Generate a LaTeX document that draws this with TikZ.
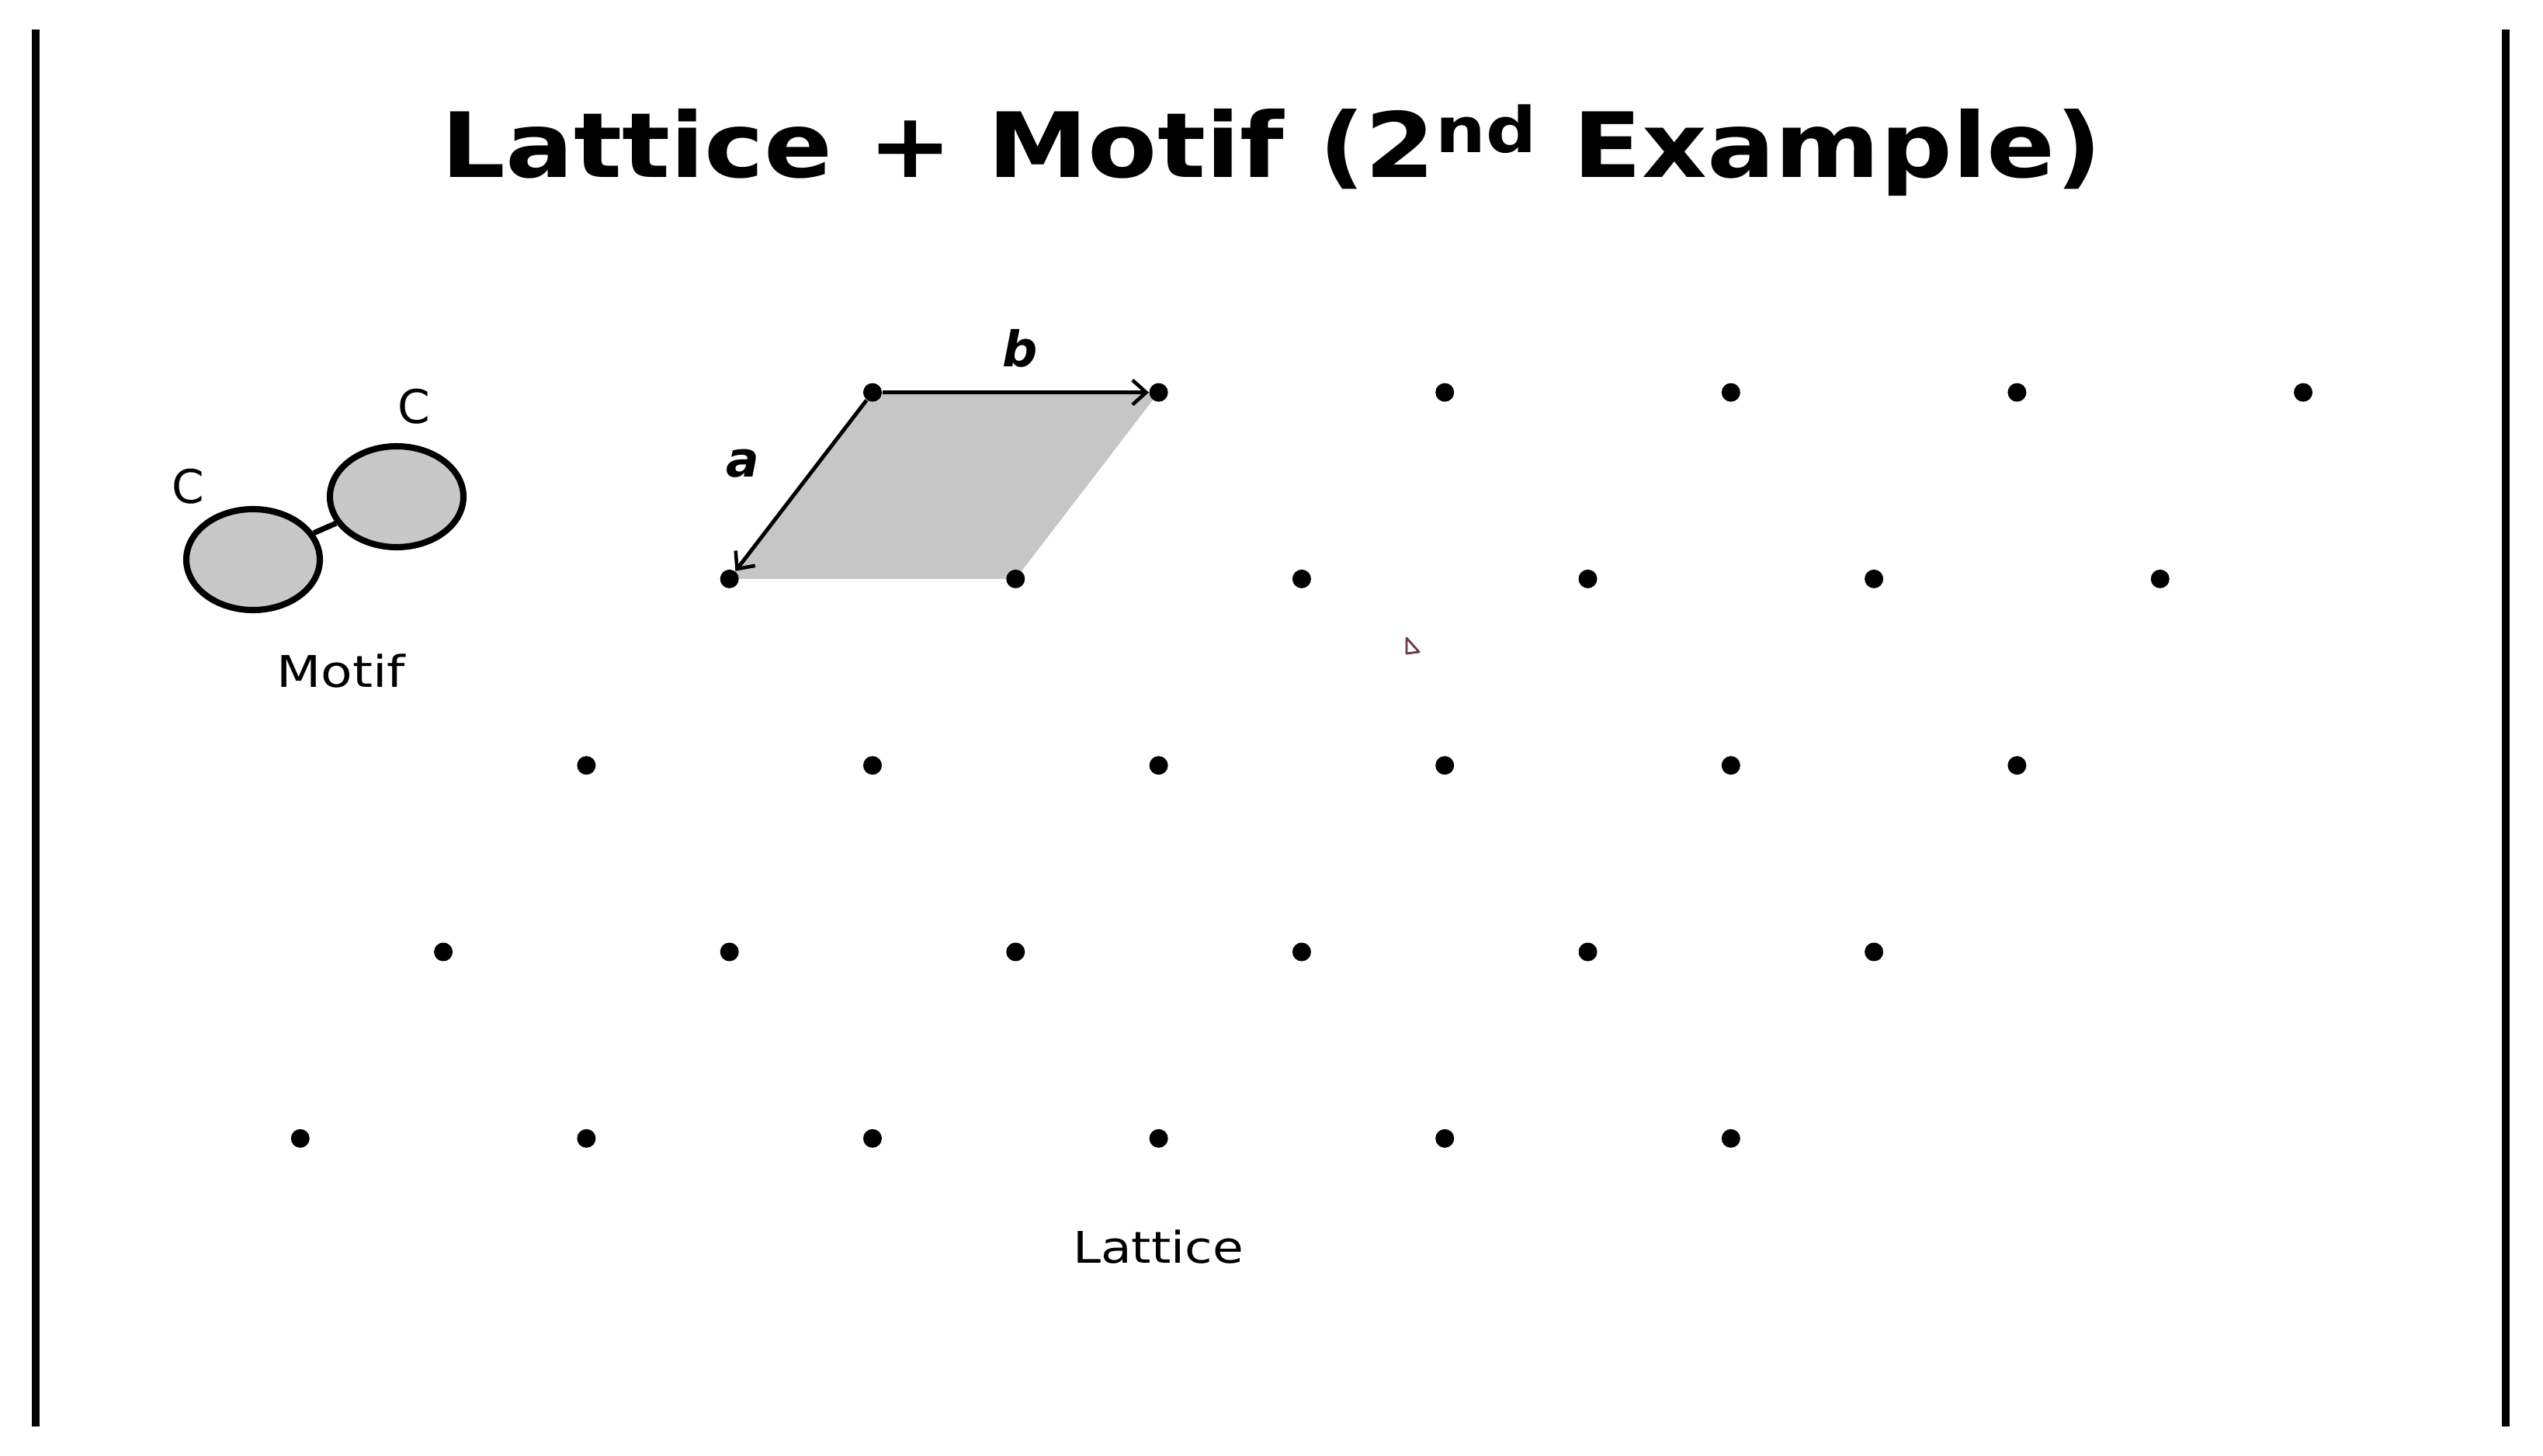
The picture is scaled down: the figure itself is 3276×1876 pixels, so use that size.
\documentclass[tikz,border=0pt]{standalone}
\usepackage{fontspec}
\setmainfont{DejaVu Sans}
\usetikzlibrary{arrows.meta,shapes.geometric}
\definecolor{cellgray}{HTML}{C6C6C6}
\definecolor{atomgray}{HTML}{C8C8C8}
\definecolor{markred}{HTML}{6B3A4A}
\newlength{\pxu}\setlength{\pxu}{0.01cm}
\tikzset{
  latdot/.style={circle,fill=black,inner sep=0pt,minimum size=24\pxu},
  vec/.style={line width=1.4pt,-{Straight Barb[length=5pt,width=9pt,line width=1.3pt]}},
  atom/.style={ellipse,draw=black,line width=2.3pt,fill=atomgray,minimum width=172\pxu,minimum height=130\pxu,inner sep=0pt},
  lbl/.style={font=\fontsize{16}{18}\selectfont},
  vlbl/.style={font=\fontsize{18}{22}\selectfont\bfseries\itshape},
  clbl/.style={font=\fontsize{17}{20}\selectfont},
  bar/.style={line width=2.9pt}
}
\begin{document}
\begin{tikzpicture}[x=0.01cm,y=-0.01cm]
\useasboundingbox (0,0) rectangle (3276,1876);
% frame bars
\coordinate (lt) at (46,38); \coordinate (lb) at (46,1838);
\coordinate (rt) at (3228,38); \coordinate (rb) at (3228,1838);
\draw[bar] (lt) -- (lb);
\draw[bar] (rt) -- (rb);
% title
\node[font=\fontsize{33}{40}\selectfont\bfseries] (title) at (1638,194) {\scalebox{1.12}[1]{Lattice + Motif (2\textsuperscript{nd} Example)}};
% lattice coordinates
\foreach \r in {1,...,5}{
  \foreach \c in {1,...,6}{
    \coordinate (p\r\c) at ({1124+(\c-1)*368.6-(\r-1)*184.3},{505.6+(\r-1)*240.3});
  }
}
% unit cell
\fill[cellgray] (p11) -- (p12) -- (p22) -- (p21) -- cycle;
% dots
\foreach \r in {1,...,5}{
  \foreach \c in {1,...,6}{
    \node[latdot] (d\r\c) at (p\r\c) {};
  }
}
% lattice vectors
\draw[vec] (d11) -- (d12);
\draw[vec] (d11) -- (d21);
\node[vlbl] (lb) at (1314,449) {b};
\node[vlbl] (la) at (957,597) {a};
% motif
\node[atom] (c1) at (326,721) {};
\node[atom] (c2) at (511,640) {};
\draw[line width=2pt] (c1) -- (c2);
\node[clbl] (lc1) at (242,627) {C};
\node[clbl] (lc2) at (533,524) {C};
\node[lbl] (motif) at (439,865) {\scalebox{1.18}[1]{Motif}};
\node[lbl] (lattice) at (1492,1607) {\scalebox{1.15}[1]{Lattice}};
% small mark
\draw[markred,line width=0.8pt,line join=round] (1812,822) -- (1812,842) -- (1828,840) -- cycle;
\end{tikzpicture}
\end{document}
